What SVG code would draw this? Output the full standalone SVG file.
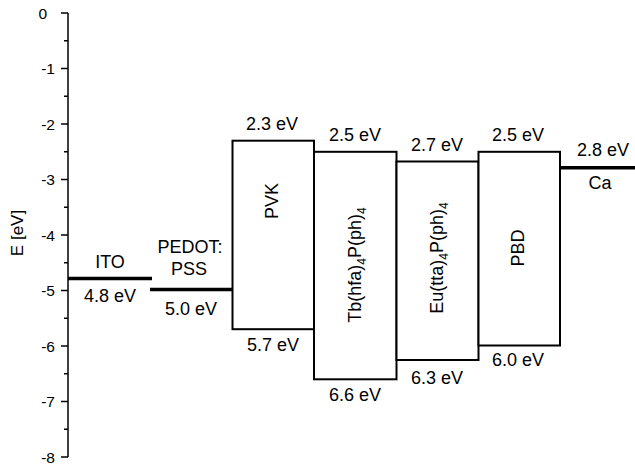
<svg xmlns="http://www.w3.org/2000/svg" width="635" height="466" viewBox="0 0 635 466">
<style>
text{font-family:"Liberation Sans",Arial,sans-serif;fill:#000}
.ax{font-size:15.5px;text-anchor:end}
.lb{font-size:18px;text-anchor:middle}
.box{fill:#fff;stroke:#000;stroke-width:2}
.lvl{stroke:#000;stroke-width:3.5;fill:none}
.tk{stroke:#000;stroke-width:1.5}
.sub{font-size:12px}
</style>
<rect width="635" height="466" fill="#fff"/>
<g id="axis">
<line class="tk" x1="68" y1="13" x2="68" y2="457"/>
<g class="tk">
<line x1="61" y1="13" x2="68" y2="13"/><line x1="61" y1="68.5" x2="68" y2="68.5"/><line x1="61" y1="124" x2="68" y2="124"/><line x1="61" y1="179.5" x2="68" y2="179.5"/><line x1="61" y1="235" x2="68" y2="235"/><line x1="61" y1="290.5" x2="68" y2="290.5"/><line x1="61" y1="346" x2="68" y2="346"/><line x1="61" y1="401.5" x2="68" y2="401.5"/><line x1="61" y1="457" x2="68" y2="457"/>
<line x1="64" y1="40.75" x2="68" y2="40.75"/><line x1="64" y1="96.25" x2="68" y2="96.25"/><line x1="64" y1="151.75" x2="68" y2="151.75"/><line x1="64" y1="207.25" x2="68" y2="207.25"/><line x1="64" y1="262.75" x2="68" y2="262.75"/><line x1="64" y1="318.25" x2="68" y2="318.25"/><line x1="64" y1="373.75" x2="68" y2="373.75"/><line x1="64" y1="429.25" x2="68" y2="429.25"/>
</g>
<text class="ax" x="47" y="18.5">0</text>
<text class="ax" x="55" y="74">-1</text>
<text class="ax" x="55" y="129.5">-2</text>
<text class="ax" x="55" y="185">-3</text>
<text class="ax" x="55" y="240.5">-4</text>
<text class="ax" x="55" y="296">-5</text>
<text class="ax" x="55" y="351.5">-6</text>
<text class="ax" x="55" y="407">-7</text>
<text class="ax" x="55" y="462.5">-8</text>
<text class="lb" style="font-size:17px" transform="translate(17,233) rotate(-90)" dy="0.35em">E [eV]</text>
</g>
<g id="ITO">
<line class="lvl" x1="68" y1="278.5" x2="152" y2="278.5"/>
<text class="lb" x="110" y="268">ITO</text>
<text class="lb" x="110" y="302">4.8 eV</text>
</g>
<g id="PEDOT">
<line class="lvl" x1="150" y1="289.5" x2="233" y2="289.5"/>
<text class="lb" x="190" y="253">PEDOT:</text>
<text class="lb" x="189" y="275">PSS</text>
<text class="lb" x="191" y="315">5.0 eV</text>
</g>
<g id="PVK">
<rect class="box" x="232.5" y="140.7" width="81.5" height="188.5"/>
<text class="lb" x="272" y="130">2.3 eV</text>
<text class="lb" transform="translate(272,201) rotate(-90)" dy="0.35em">PVK</text>
<text class="lb" x="273" y="351">5.7 eV</text>
</g>
<g id="Tb">
<rect class="box" x="314" y="151.8" width="82.5" height="227.5"/>
<text class="lb" x="355" y="141">2.5 eV</text>
<text class="lb" transform="translate(355,265) rotate(-90)" dy="0.35em">Tb(hfa)<tspan class="sub" dy="5">4</tspan><tspan dy="-5">P(ph)</tspan><tspan class="sub" dy="5">4</tspan></text>
<text class="lb" x="355" y="401">6.6 eV</text>
</g>
<g id="Eu">
<rect class="box" x="396.5" y="161.5" width="82" height="198.5"/>
<text class="lb" x="437" y="151">2.7 eV</text>
<text class="lb" transform="translate(437,258) rotate(-90)" dy="0.35em">Eu(tta)<tspan class="sub" dy="5">4</tspan><tspan dy="-5">P(ph)</tspan><tspan class="sub" dy="5">4</tspan></text>
<text class="lb" x="437" y="384">6.3 eV</text>
</g>
<g id="PBD">
<rect class="box" x="478.5" y="151.8" width="81.5" height="193.7"/>
<text class="lb" x="518" y="141">2.5 eV</text>
<text class="lb" transform="translate(518,248) rotate(-90)" dy="0.35em">PBD</text>
<text class="lb" x="518" y="366">6.0 eV</text>
</g>
<g id="Ca">
<line class="lvl" x1="560" y1="167.8" x2="635" y2="167.8"/>
<text class="lb" x="603" y="156">2.8 eV</text>
<text class="lb" x="600" y="189">Ca</text>
</g>
<g id="connectors"></g>
</svg>
